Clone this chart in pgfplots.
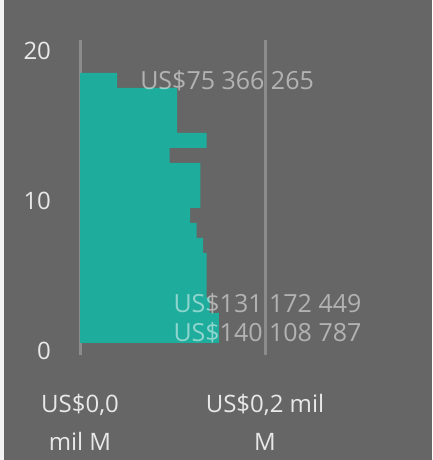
\documentclass[border=0pt]{standalone}
\usepackage{pgfplots}
\pgfplotsset{compat=1.18}
\usepackage{fontspec}
\setmainfont{Open Sans}
\definecolor{bg}{RGB}{102,102,102}
\definecolor{barteal}{RGB}{30,172,156}
\definecolor{gridc}{RGB}{140,140,140}
\definecolor{tickc}{RGB}{232,232,232}
\begin{document}
\begin{tikzpicture}[x=1pt,y=1pt]
  % background of the visual
  \fill[bg] (0,0) rectangle (432,460);
  \fill[white!92!bg] (0,0) rectangle (4,460);
  \begin{axis}[
      at={(70.75pt,105pt)}, anchor=south west,
      scale only axis, width=351.5pt, height=315pt,
      xmin=-0.01, xmax=0.37,
      ymin=-0.3, ymax=20.7,
      xbar, bar width=1, bar shift=0pt,
      axis line style={draw=none},
      major tick style={draw=none},
      xtick={0,0.2},
      xticklabels={{US\$0,0\\mil M},{US\$0,2 mil\\M}},
      xticklabel style={align=center, text=tickc, font=\fontsize{24}{38}\selectfont, yshift=-36pt},
      ytick={0,10,20},
      yticklabel style={text=tickc, font=\fontsize{24}{28}\selectfont, xshift=-12pt},
      /pgf/number format/assume math mode=true,
      xmajorgrids, grid style={gridc, line width=3pt},
      clip=false,
    ]
    \addplot[fill=barteal, draw=none] coordinates {
      (0.150,1) (0.150,2) (0.140,3) (0.137,4) (0.137,5) (0.137,6)
      (0.133,7) (0.126,8) (0.119,9) (0.130,10) (0.130,11) (0.130,12)
      (0.097,13) (0.137,14) (0.105,15) (0.105,16) (0.105,17) (0.040,18)
    };
    \node[white, opacity=0.5, font=\fontsize{25}{28}\selectfont] at (axis cs:0.159,18) {US\$75 366 265};
    \node[white, opacity=0.5, font=\fontsize{25}{28}\selectfont, anchor=east] at (axis cs:0.308,3.1) {US\$131 172 449};
    \node[white, opacity=0.5, font=\fontsize{25}{28}\selectfont, anchor=east] at (axis cs:0.308,1.2) {US\$140 108 787};
  \end{axis}
\end{tikzpicture}
\end{document}
